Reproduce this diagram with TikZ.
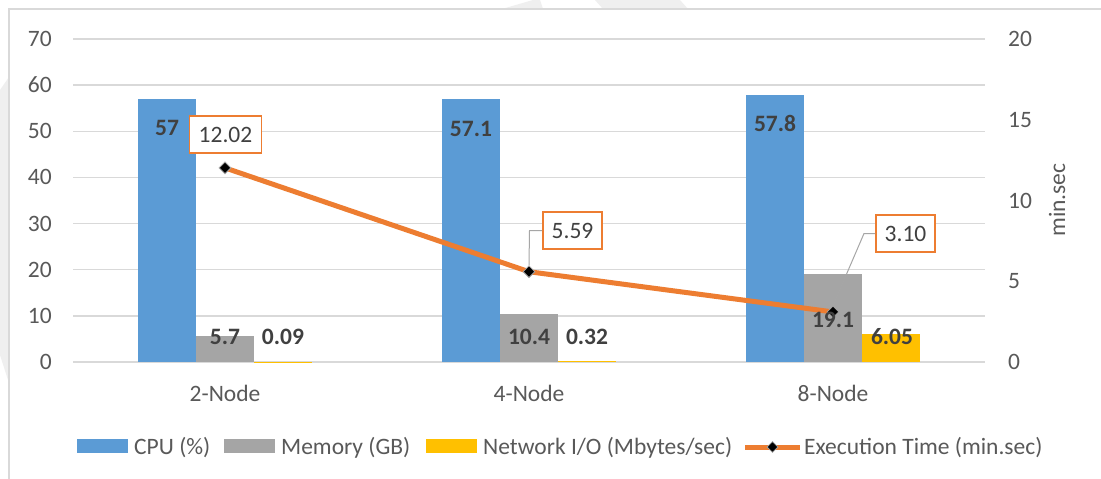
\documentclass[tikz,border=0pt]{standalone}
\usepackage{fontspec}
\setmainfont{Carlito}
\usetikzlibrary{shapes.geometric}
\definecolor{cpucol}{HTML}{5B9BD5}
\definecolor{memcol}{HTML}{A5A5A5}
\definecolor{netcol}{HTML}{FFC000}
\definecolor{timecol}{HTML}{ED7D31}
\definecolor{gridcol}{HTML}{D9D9D9}
\definecolor{axistext}{HTML}{595959}
\definecolor{datatext}{HTML}{404040}
\definecolor{wmark}{HTML}{EFEFEF}
\definecolor{leadcol}{HTML}{A6A6A6}
\tikzset{
  txt/.style={font=\fontsize{23.5}{28}\selectfont, inner sep=0pt},
  axislbl/.style={txt, text=axistext},
  barlbl/.style={txt, text=datatext, font=\fontsize{23.5}{28}\selectfont\bfseries},
  timebox/.style={txt, text=datatext, draw=timecol, line width=1.6pt, fill=white, minimum height=37pt},
  marker/.style={diamond, fill=black, draw=gray!70, line width=0.8pt, inner sep=0pt, minimum size=12pt},
  leader/.style={draw=leadcol, line width=1pt},
  swatch/.style={inner sep=0pt, minimum width=51pt, minimum height=14pt},
  gridline/.style={draw=gridcol, line width=1.3pt},
}
\begin{document}
\begin{tikzpicture}[x=1pt,y=-1pt]
\useasboundingbox (0,0) rectangle (1101,479);
\clip (0,0) rectangle (1101,479);
\fill[white] (0,0) rectangle (1101,479);
% faint background watermark
\fill[wmark] (502,9) -- (533,0) -- (540,0) -- (543,9) -- cycle;
\fill[wmark] (603,9) -- (595,0) -- (680,0) -- (688,9) -- cycle;
\fill[wmark] (0,90) -- (9,77) -- (9,383) -- (0,355) -- cycle;
% chart border
\draw[gridcol, line width=1.3pt] (9,9) rectangle (1130,500);
% gridlines and axis labels
\foreach \v [count=\i from 0] in {0,10,20,30,40,50,60,70} {
  \draw[gridline] (73,{362-\v*4.6143}) -- (985,{362-\v*4.6143});
  \node[axislbl, anchor=east] (yl\i) at (52,{362-\v*4.6143}) {\v};
}
\foreach \v [count=\i from 0] in {0,5,10,15,20} {
  \node[axislbl, anchor=west] (yr\i) at (1008,{362-\v*16.15}) {\v};
}
\node[axislbl, rotate=90] (ytitle) at (1057,200) {min.sec};
% bars
\foreach \x/\c/\m/\n in {138/57/5.7/0.09, 442/57.1/10.4/0.32, 746/57.8/19.1/6.05} {
  \fill[cpucol] (\x,362) rectangle ({\x+58},{362-\c*4.6143});
  \fill[memcol] ({\x+58},362) rectangle ({\x+116},{362-\m*4.6143});
  \fill[netcol] ({\x+116},362) rectangle ({\x+174},{362-\n*4.6143});
}
% category labels
\node[axislbl, anchor=base] (c1) at (225,401) {2-Node};
\node[axislbl, anchor=base] (c2) at (529,401) {4-Node};
\node[axislbl, anchor=base] (c3) at (833,401) {8-Node};
% execution time line
\coordinate (p1) at (225,{362-12.02*16.15});
\coordinate (p2) at (529,{362-5.59*16.15});
\coordinate (p3) at (833,{362-3.10*16.15});
\draw[timecol, line width=5pt, line join=round] (p1) -- (p2) -- (p3);
\node[marker] (m1) at (p1) {};
\node[marker] (m2) at (p2) {};
\node[marker] (m3) at (p3) {};
% bar data labels
\node[barlbl] (d1) at (167,128) {57};
\node[barlbl] (d2) at (225,337) {5.7};
\node[barlbl] (d3) at (283,337) {0.09};
\node[barlbl] (d4) at (471,129) {57.1};
\node[barlbl] (d5) at (529,337) {10.4};
\node[barlbl] (d6) at (587,337) {0.32};
\node[barlbl] (d7) at (775,123) {57.8};
\node[barlbl] (d8) at (833,320) {19.1};
\node[barlbl] (d9) at (892,337) {6.05};
% time labels
\node[timebox, minimum width=72pt] (b1) at (225.5,134.5) {12.02};
\node[timebox, minimum width=59pt] (b2) at (572.5,230.5) {5.59};
\node[timebox, minimum width=59pt] (b3) at (905.5,233.5) {3.10};
\coordinate (k2) at (529.5,230.5);
\coordinate (k3) at (864,233.5);
\draw[leader] (m2.north) -- (k2) -- (b2.west);
\draw[leader] (m3.north) -- (k3) -- (b3.west);
% legend
\node[swatch, fill=cpucol] (s1) at (102.5,446) {};
\node[axislbl, anchor=base west] (t1) at (134,454) {CPU (\%)};
\node[swatch, fill=memcol] (s2) at (249,446) {};
\node[axislbl, anchor=base west] (t2) at (281,454) {Memory (GB)};
\node[swatch, fill=netcol] (s3) at (451,446) {};
\node[axislbl, anchor=base west] (t3) at (483,454) {Network I/O (Mbytes/sec)};
\coordinate (la) at (745,447);
\coordinate (lb) at (800,447);
\draw[timecol, line width=5pt] (la) -- (lb);
\node[marker, minimum size=11pt] (s4) at (772.5,447) {};
\node[axislbl, anchor=base west] (t4) at (804,454) {Execution Time (min.sec)};
\end{tikzpicture}
\end{document}
